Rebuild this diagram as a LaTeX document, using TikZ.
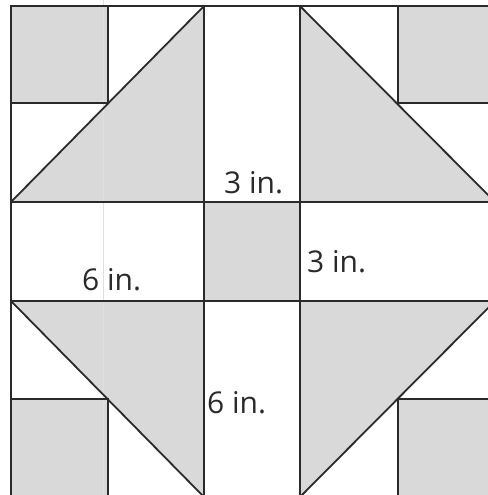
\documentclass[tikz,border=0pt]{standalone}
\usepackage{fontspec}
\setmainfont{Open Sans}
\definecolor{patch}{HTML}{D9D9D9}
\definecolor{ink}{HTML}{2A2A2A}
\definecolor{scanline}{HTML}{EFE2A6}
\begin{document}
\begin{tikzpicture}[x=1pt,y=-1pt,
  seam/.style={draw=ink,line width=1.8pt,line join=miter},
  cloth/.style={fill=patch},
  lbl/.style={font=\fontsize{30}{30}\selectfont,text=ink,inner sep=0pt,anchor=base west}]
\useasboundingbox (0,0) rectangle (487,495);
\fill[white] (0,0) rectangle (487,495);
% grid coordinates
\def\xa{11}\def\xb{108}\def\xc{204}\def\xd{300}\def\xe{398}\def\xf{495}
\def\ya{6}\def\yb{103}\def\yc{202}\def\yd{301}\def\ye{399}\def\yf{497}
% gray pieces
\fill[cloth] (\xc,\ya) -- (\xa,\yc) -- (\xc,\yc) -- cycle;
\fill[cloth] (\xd,\ya) -- (\xd,\yc) -- (\xf,\yc) -- cycle;
\fill[cloth] (\xa,\yd) -- (\xc,\yd) -- (\xc,\yf) -- cycle;
\fill[cloth] (\xd,\yd) -- (\xf,\yd) -- (\xd,\yf) -- cycle;
\fill[cloth] (\xa,\ya) rectangle (\xb,\yb);
\fill[cloth] (\xe,\ya) rectangle (\xf,\yb);
\fill[cloth] (\xa,\ye) rectangle (\xb,\yf);
\fill[cloth] (\xe,\ye) rectangle (\xf,\yf);
\fill[cloth] (\xc,\yc) rectangle (\xd,\yd);
% scan artefact
\draw[scanline,line width=0.9pt] (103,0) -- (103,495);
% seams
\draw[seam] (\xa,\ya) rectangle (\xf,\yf);
\foreach \x in {\xc,\xd} \draw[seam] (\x,\ya) -- (\x,\yf);
\foreach \y in {\yc,\yd} \draw[seam] (\xa,\y) -- (\xf,\y);
\draw[seam] (\xa,\yb) -| (\xb,\ya);
\draw[seam] (\xf,\yb) -| (\xe,\ya);
\draw[seam] (\xa,\ye) -| (\xb,\yf);
\draw[seam] (\xf,\ye) -| (\xe,\yf);
\draw[seam] (\xc,\ya) -- (\xa,\yc);
\draw[seam] (\xd,\ya) -- (\xf,\yc);
\draw[seam] (\xa,\yd) -- (\xc,\yf);
\draw[seam] (\xf,\yd) -- (\xd,\yf);
% labels
\node[lbl] (l1) at (224,193) {3 in.};
\node[lbl] (l2) at (307,272) {3 in.};
\node[lbl] (l3) at (82,290) {6 in.};
\node[lbl] (l4) at (207,413) {6 in.};
\end{tikzpicture}
\end{document}
